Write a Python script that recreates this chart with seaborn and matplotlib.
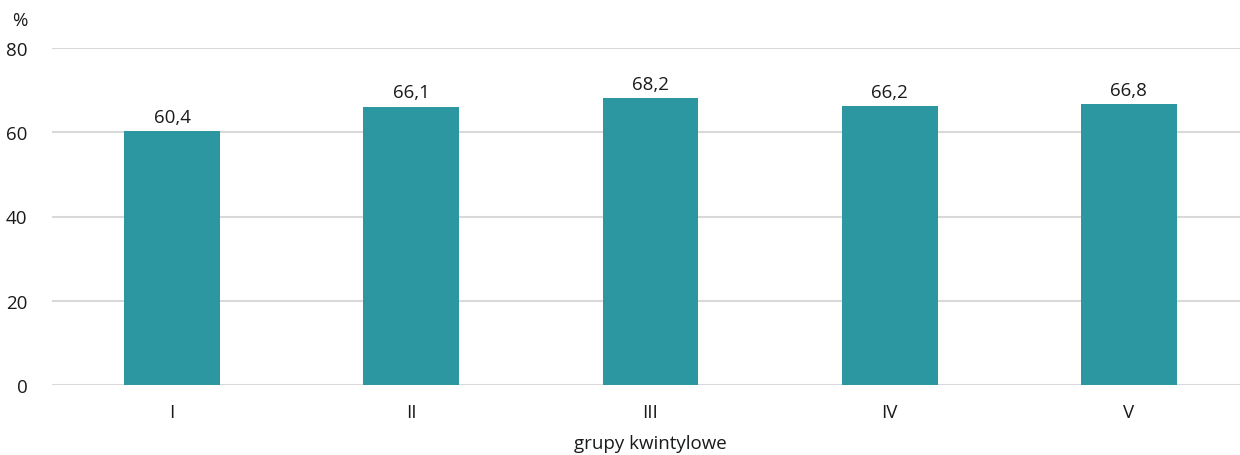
import matplotlib
matplotlib.use("Agg")
import matplotlib.pyplot as plt
import seaborn as sns
import pandas as pd

# Data
groups = ['I', 'II', 'III', 'IV', 'V']
values = [60.4, 66.1, 68.2, 66.2, 66.8]
labels = ['60,4', '66,1', '68,2', '66,2', '66,8']
y_ticks = [0, 20, 40, 60, 80]

df = pd.DataFrame({'grupa': groups, 'wartosc': values})

sns.set_style('white')
plt.rcParams['font.family'] = ['Open Sans', 'DejaVu Sans']

fig = plt.figure(figsize=(12.4, 4.56), dpi=100)
# axes runs a little past the right edge, like the source crop
ax = fig.add_axes([52.5 / 1240, 1 - 386 / 456, 1196 / 1240, 337 / 456])

sns.barplot(data=df, x='grupa', y='wartosc', color='#2C97A0', width=0.40,
            saturation=1, linewidth=0, ax=ax, zorder=3)

for i, (v, lab) in enumerate(zip(values, labels)):
    ax.text(i, v + 1.2, lab, ha='center', va='bottom', fontsize=13.5, color='#1a1a1a')

ax.set_ylim(0, 80)
ax.set_xlim(-0.5, 4.5)
ax.set_yticks(y_ticks)
ax.yaxis.grid(True, color='#D9D9D9', linewidth=1.5, zorder=0)
ax.set_axisbelow(True)
for s in ax.spines.values():
    s.set_visible(False)
ax.tick_params(axis='both', length=0, labelsize=13.5, colors='#1a1a1a')
ax.tick_params(axis='y', pad=18)
ax.tick_params(axis='x', pad=13)
ax.set_ylabel('')
ax.set_xlabel('grupy kwintylowe', fontsize=13.5, color='#1a1a1a', labelpad=9)
fig.text(12 / 1240, 1 - 21 / 456, '%', fontsize=13.5, color='#1a1a1a', va='center', ha='left')

fig.savefig('out.png', dpi=100)
